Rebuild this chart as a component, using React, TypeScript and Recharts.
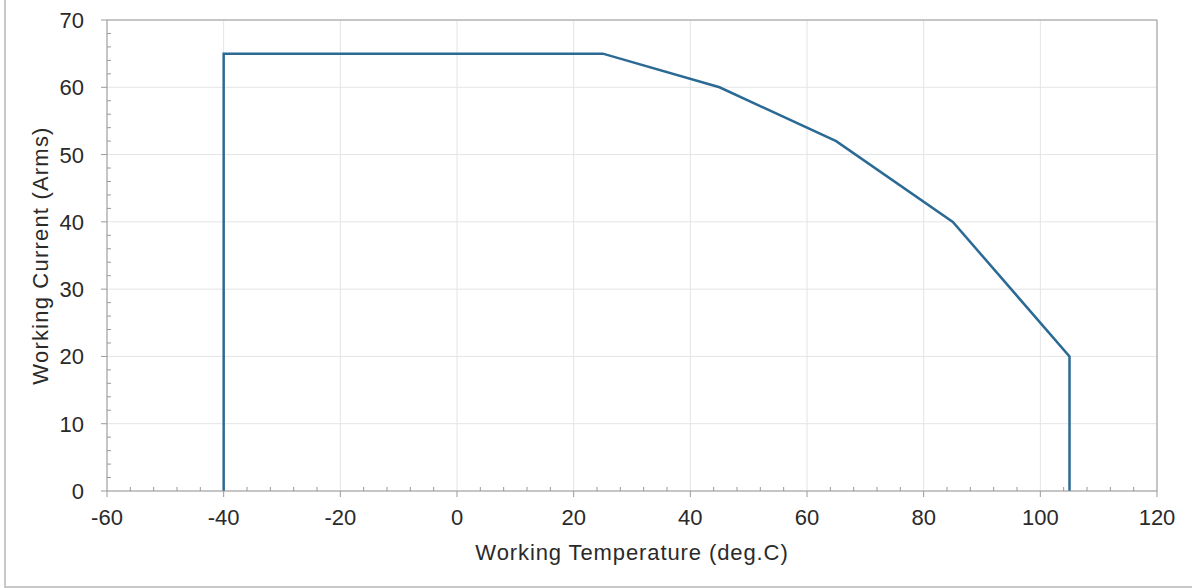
import React from 'react';
import { LineChart, Line, XAxis, YAxis, CartesianGrid, ReferenceLine } from 'recharts';

// derating curve points (temperature, current)
const temps = [-40, -40, 25, 45, 65, 85, 105, 105];
const currents = [0, 65, 65, 60, 52, 40, 20, 0];

const xMajor = [-60, -40, -20, 0, 20, 40, 60, 80, 100, 120];
const yMajor = [0, 10, 20, 30, 40, 50, 60, 70];
const xMinorStep = 4;
const yMinorStep = 2;

const data = temps.map((t, i) => ({ t, a: currents[i] }));

const range = (from: number, to: number, step: number) => {
  const out: number[] = [];
  for (let v = from; v <= to; v += step) out.push(v);
  return out;
};

const xTicks = range(-60, 120, xMinorStep);
const yTicks = range(0, 70, yMinorStep);

const axisColor = '#9a9a9a';
const textColor = '#2a2a2a';
const font = '"Liberation Sans", Arial, sans-serif';

const XTick = (props: any) => {
  const { x, y, payload } = props;
  const major = xMajor.includes(payload.value);
  return (
    <g>
      {major ? (
        <>
          <line x1={x} x2={x} y1={y} y2={y + 6} stroke={axisColor} />
          <text x={x} y={y + 34} textAnchor="middle" fontSize={22} fill={textColor} fontFamily={font}>
            {payload.value}
          </text>
        </>
      ) : (
        <line x1={x} x2={x} y1={y} y2={y - 4} stroke={axisColor} />
      )}
    </g>
  );
};

const YTick = (props: any) => {
  const { x, y, payload } = props;
  const major = yMajor.includes(payload.value);
  return (
    <g>
      {major ? (
        <>
          <line x1={x - 6} x2={x} y1={y} y2={y} stroke={axisColor} />
          <text x={x - 23} y={y + 8} textAnchor="end" fontSize={22} fill={textColor} fontFamily={font}>
            {payload.value}
          </text>
        </>
      ) : (
        <line x1={x} x2={x + 4} y1={y} y2={y} stroke={axisColor} />
      )}
    </g>
  );
};

const App: React.FC = () => {
  return (
    <div style={{ position: 'absolute', left: 0, top: 0, width: 1192, height: 588, background: '#fff' }}>
      <div
        style={{
          position: 'absolute',
          left: 4,
          top: 0,
          width: 1188,
          height: 586,
          borderLeft: '2px solid #c8c8c8',
          borderBottom: '2px solid #c8c8c8',
        }}
      />
      <LineChart
        width={1192}
        height={588}
        data={data}
        margin={{ top: 20, right: 35, bottom: 0, left: 47 }}
        style={{ position: 'absolute', left: 0, top: 0 }}
      >
        <CartesianGrid
          stroke="#e4e4e4"
          verticalValues={xMajor}
          horizontalValues={yMajor}
        />
        <XAxis
          type="number"
          dataKey="t"
          domain={[-60, 120]}
          ticks={xTicks}
          interval={0}
          height={97}
          tick={<XTick />}
          tickLine={false}
          tickSize={0}
          tickMargin={0}
          stroke={axisColor}
          label={{
            value: 'Working Temperature (deg.C)',
            position: 'insideBottom',
            offset: 28,
            fontSize: 22,
            letterSpacing: 0.9,
            fill: textColor,
            fontFamily: font,
          }}
        />
        <YAxis
          type="number"
          domain={[0, 70]}
          ticks={yTicks}
          interval={0}
          width={60}
          tick={<YTick />}
          tickLine={false}
          tickSize={0}
          tickMargin={0}
          stroke={axisColor}
          label={{
            value: 'Working Current (Arms)',
            angle: -90,
            position: 'insideLeft',
            offset: -7,
            style: { textAnchor: 'middle' },
            fontSize: 22,
            letterSpacing: 1.2,
            fill: textColor,
            fontFamily: font,
          }}
        />
        <ReferenceLine y={70} stroke={axisColor} />
        <ReferenceLine x={120} stroke={axisColor} />
        <Line
          type="linear"
          dataKey="a"
          stroke="#2b6a94"
          strokeWidth={2.5}
          dot={false}
          isAnimationActive={false}
        />
      </LineChart>
    </div>
  );
};

export default App;
